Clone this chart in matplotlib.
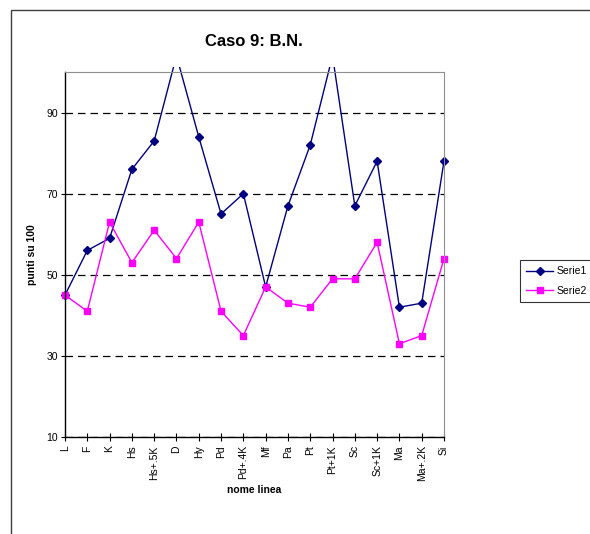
import numpy as np
import matplotlib
matplotlib.use('Agg')
import matplotlib.pyplot as plt
from matplotlib.patches import Rectangle

plt.rcParams['font.family'] = ['Liberation Sans', 'DejaVu Sans']

# categories and series values
categories = ['L', 'F', 'K', 'Hs', 'Hs+.5K', 'D', 'Hy', 'Pd', 'Pd+.4K', 'Mf',
              'Pa', 'Pt', 'Pt+1K', 'Sc', 'Sc+1K', 'Ma', 'Ma+.2K', 'Si']
serie1 = [45, 56, 59, 76, 83, 104, 84, 65, 70, 47, 67, 82, 104, 67, 78, 42, 43, 78]
serie2 = [45, 41, 63, 53, 61, 54, 63, 41, 35, 47, 43, 42, 49, 49, 58, 33, 35, 54]
yticks = [10, 30, 50, 70, 90]

W, H = 590, 534
fig = plt.figure(figsize=(W / 100, H / 100), dpi=100)

# outer chart frame (runs past right and bottom edge)
fig.patches.append(Rectangle((11 / W, -0.1), 1.2, 1 - 10 / H + 0.1,
                             transform=fig.transFigure, fill=False,
                             edgecolor='#404040', linewidth=1.0))

ax = fig.add_axes([65 / W, 1 - 437 / H, (444 - 65) / W, (437 - 72) / H])
x = np.arange(len(categories))

# clip a few pixels above the plot area, like the original
clip = Rectangle((-0.05, -0.05), 1.1, 1.065, transform=ax.transAxes, visible=False)
ax.add_patch(clip)

l1, = ax.plot(x, serie1, color='#000080', marker='D', markersize=3.8,
              linewidth=1.0, label='Serie1')
l2, = ax.plot(x, serie2, color='#ff00ff', marker='s', markersize=4.5,
              linewidth=1.0, label='Serie2')
for ln in (l1, l2):
    ln.set_clip_path(clip)

ax.set_xlim(0, len(categories) - 1)
ax.set_ylim(10, 100)
ax.set_yticks(yticks)
ax.set_xticks(x)
ax.set_xticklabels(categories, rotation=90, fontsize=7.5)
ax.tick_params(axis='y', labelsize=7.5, length=3, width=0.8, pad=2)
ax.tick_params(axis='x', direction='inout', length=6, width=0.8, pad=3)
ax.grid(axis='y', color='black', linestyle=(0, (6, 4)), linewidth=0.9)
ax.set_axisbelow(True)

for side in ('top', 'right'):
    ax.spines[side].set_color('#909090')
    ax.spines[side].set_linewidth(0.8)
for side in ('left', 'bottom'):
    ax.spines[side].set_color('black')
    ax.spines[side].set_linewidth(1.0)

fig.text(254 / W, 1 - 41 / H, 'Caso 9: B.N.', ha='center', va='center',
         fontsize=12, fontweight='bold')
fig.text(254 / W, 1 - 490 / H, 'nome linea', ha='center', va='center',
         fontsize=7.5, fontweight='bold')
fig.text(32 / W, 1 - 255 / H, 'punti su 100', ha='center', va='center',
         rotation=90, fontsize=7.5, fontweight='bold')

leg = fig.legend(handles=[l1, l2], loc='upper left',
                 bbox_to_anchor=(520 / W, 1 - 260 / H), fontsize=7.5,
                 frameon=True, fancybox=False, edgecolor='black',
                 handlelength=2.6, borderpad=0.6, labelspacing=0.9,
                 handletextpad=0.3, borderaxespad=0)
leg.get_frame().set_linewidth(0.8)

fig.savefig('out.png', dpi=100)
